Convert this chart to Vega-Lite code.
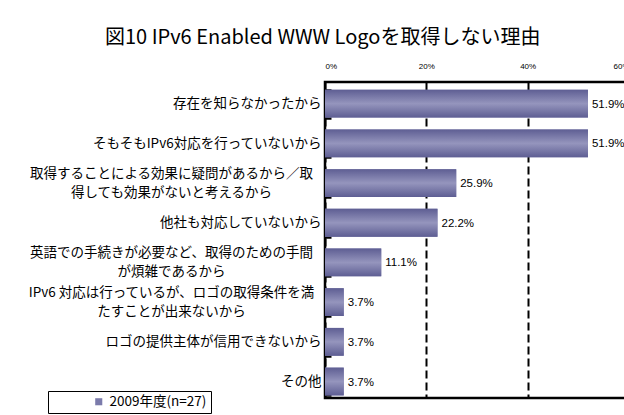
{
  "$schema": "https://vega.github.io/schema/vega-lite/v6.json",
  "autosize": {"type": "none"},
  "padding": {"left": 325, "top": 82, "right": 0, "bottom": 17},
  "width": 304,
  "height": 316,
  "background": "white",
  "config": {"view": {"stroke": "black", "strokeWidth": 2.5}},
  "title": {
    "text": "図10 IPv6 Enabled WWW Logoを取得しない理由",
    "font": "Noto Sans CJK JP",
    "fontSize": 20,
    "fontWeight": "normal",
    "color": "black",
    "anchor": "start",
    "frame": "group",
    "dx": -220,
    "offset": 14
  },
  "data": {
    "values": [
      {"reason": "存在を知らなかったから", "share": 0.519, "series": "2009年度(n=27)"},
      {"reason": "そもそもIPv6対応を行っていないから", "share": 0.519, "series": "2009年度(n=27)"},
      {"reason": "取得することによる効果に疑問があるから／取\n得しても効果がないと考えるから", "share": 0.259, "series": "2009年度(n=27)"},
      {"reason": "他社も対応していないから", "share": 0.222, "series": "2009年度(n=27)"},
      {"reason": "英語での手続きが必要など、取得のための手間\nが煩雑であるから", "share": 0.111, "series": "2009年度(n=27)"},
      {"reason": "IPv6 対応は行っているが、ロゴの取得条件を満\nたすことが出来ないから", "share": 0.037, "series": "2009年度(n=27)"},
      {"reason": "ロゴの提供主体が信用できないから", "share": 0.037, "series": "2009年度(n=27)"},
      {"reason": "その他", "share": 0.037, "series": "2009年度(n=27)"}
    ]
  },
  "encoding": {
    "y": {
      "field": "reason",
      "type": "nominal",
      "sort": null,
      "scale": {"paddingInner": 0.3, "paddingOuter": 0.13, "align": 0.75},
      "axis": {
        "title": null,
        "domain": false,
        "ticks": true,
        "tickBand": "extent",
        "tickSize": -6,
        "tickWidth": 2.5,
        "tickColor": "black",
        "labelExpr": "datum.label ? split(datum.label, '\\n') : ''",
        "labelFont": "Noto Sans CJK JP",
        "labelFontSize": 13.5,
        "labelColor": "black",
        "labelLimit": 400,
        "labelLineHeight": 19,
        "labelAlign": {"condition": {"test": "indexof(datum.label + '', '\\n') >= 0", "value": "center"}, "value": "right"},
        "labelPadding": {"condition": {"test": "indexof(datum.label + '', '\\n') >= 0", "value": 160}, "value": 10},
        "labelOffset": {"condition": {"test": "indexof(datum.label + '', '\\n') >= 0", "value": -10}, "value": 0}
      }
    },
    "x": {
      "field": "share",
      "type": "quantitative",
      "scale": {"domain": [0, 0.6], "nice": false},
      "axis": {
        "orient": "top",
        "title": null,
        "values": [0, 0.2, 0.4, 0.6],
        "format": ".0%",
        "domain": false,
        "ticks": false,
        "labelPadding": 12,
        "labelFont": "Liberation Sans",
        "labelFontSize": 8,
        "labelColor": "black",
        "grid": true,
        "gridColor": "black",
        "gridWidth": 2,
        "gridDash": [8, 4]
      }
    }
  },
  "layer": [
    {
      "mark": {"type": "bar"},
      "encoding": {
        "color": {
          "field": "series",
          "type": "nominal",
          "scale": {"range": ["#7b7bab"]},
          "legend": {
            "title": null,
            "orient": "none",
            "legendX": -277,
            "legendY": 309,
            "strokeColor": "black",
            "padding": 4,
            "symbolType": "square",
            "symbolSize": 50,
            "symbolStrokeWidth": 0,
            "symbolOffset": 40,
            "labelFont": "Noto Sans CJK JP",
            "labelFontSize": 13.5,
            "labelColor": "black",
            "fillColor": "white"
          }
        }
      }
    },
    {
      "mark": {
        "type": "bar",
        "color": {
          "gradient": "linear",
          "x1": 0, "y1": 0, "x2": 0, "y2": 1,
          "stops": [
            {"offset": 0, "color": "#5e5e93"},
            {"offset": 0.5, "color": "#9595bd"},
            {"offset": 1, "color": "#5e5e93"}
          ]
        }
      }
    },
    {
      "mark": {"type": "text", "align": "left", "baseline": "middle", "dx": 4, "dy": 1, "font": "Liberation Sans", "fontSize": 11.5, "color": "black"},
      "encoding": {
        "text": {"field": "share", "type": "quantitative", "format": ".1%"}
      }
    }
  ]
}
